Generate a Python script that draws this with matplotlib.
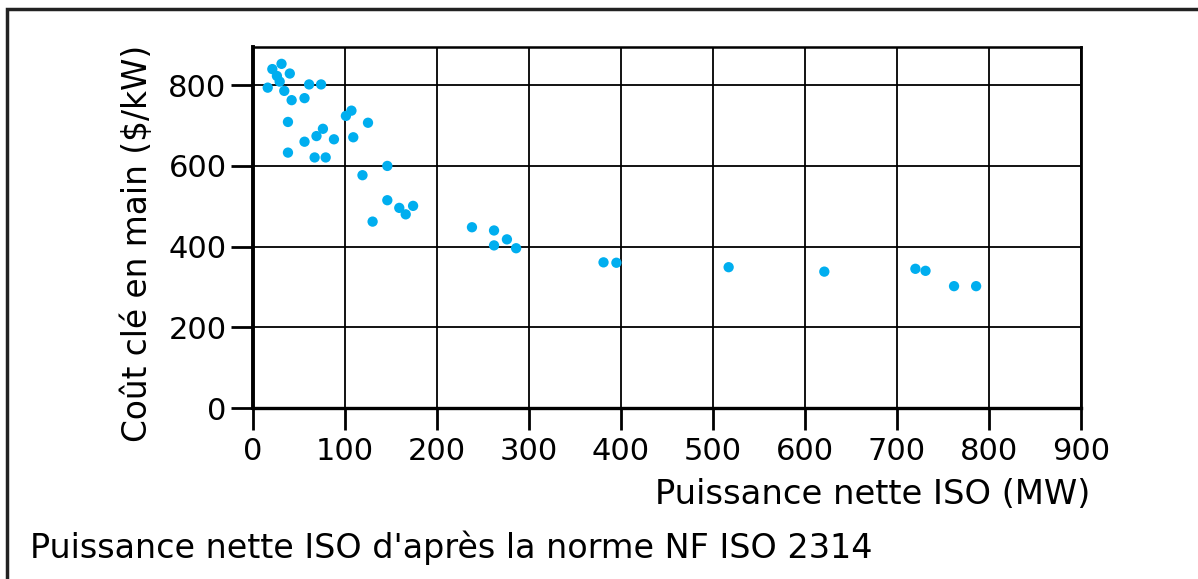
import matplotlib
matplotlib.use('Agg')
import matplotlib.pyplot as plt
from matplotlib.patches import Rectangle

# Puissance nette ISO (MW) et coût clé en main ($/kW)
puissance = [21, 31, 40, 26, 29, 16, 34, 61, 74, 42, 56, 38, 107, 101, 125,
             76, 69, 56, 88, 109, 38, 67, 79, 146, 119, 146, 159, 174, 166, 130,
             238, 262, 276, 262, 286,
             381, 395, 517, 621, 720, 731, 762, 786]
cout = [840, 853, 829, 823, 809, 794, 786, 802, 802, 763, 768, 709, 737, 724, 707,
        692, 674, 660, 666, 671, 633, 621, 621, 600, 577, 515, 496, 501, 480, 462,
        448, 440, 418, 403, 396,
        361, 360, 349, 338, 345, 340, 302, 302]

xticks = [0, 100, 200, 300, 400, 500, 600, 700, 800, 900]
yticks = [0, 200, 400, 600, 800]

plt.rcParams['font.family'] = ['DejaVu Sans']

W, H = 1198, 579
fig = plt.figure(figsize=(W / 100, H / 100), dpi=100)
ax = fig.add_axes([253 / W, 1 - 408 / H, 828 / W, 361.5 / H])

ax.scatter(puissance, cout, s=55, color='#00AEEF', edgecolors='none', zorder=3)

ax.set_xlim(0, 900)
ax.set_ylim(0, 896)
ax.set_xticks(xticks)
ax.set_yticks(yticks)
ax.grid(True, color='black', linewidth=1.3)
ax.set_axisbelow(True)
ax.tick_params(direction='out', length=16, width=2, labelsize=22, pad=3)
ax.tick_params(axis='x', pad=5)
for side, lw in [('left', 2.8), ('bottom', 2.4), ('top', 1.8), ('right', 2.0)]:
    ax.spines[side].set_linewidth(lw)

fig.text(1090 / W, 1 - 495 / H, 'Puissance nette ISO (MW)', ha='right', va='center', fontsize=24.3)
fig.text(137 / W, 1 - 243 / H, 'Coût clé en main ($/kW)', ha='center', va='center',
         rotation=90, fontsize=23.6)
fig.text(30 / W, 1 - 548 / H, "Puissance nette ISO d'après la norme NF ISO 2314",
         ha='left', va='center', fontsize=24)

# cadre extérieur (ouvert à droite et en bas)
fig.patches.append(Rectangle((7 / W, -0.1), 1.2, 1 - 9 / H + 0.1, transform=fig.transFigure,
                             fill=False, edgecolor='#222222', linewidth=2.5))

fig.savefig('out.png', dpi=100)
